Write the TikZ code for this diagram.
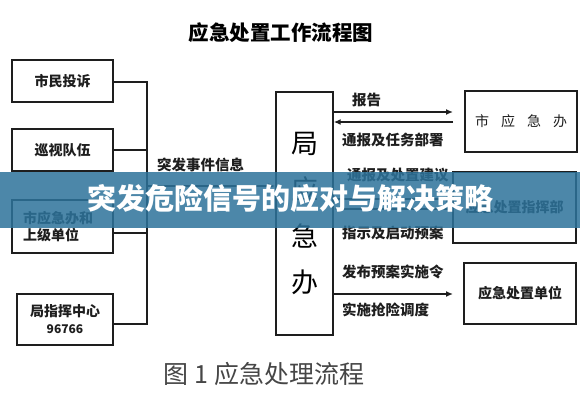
\documentclass[tikz,border=0pt]{standalone}
\usepackage{fontspec}
\setmainfont{Liberation Serif}
\newfontfamily\cjk{Noto Sans CJK SC}
\usetikzlibrary{arrows.meta,calc}
\definecolor{linecol}{RGB}{30,30,30}
\definecolor{bannercol}{RGB}{45,115,155}
\definecolor{capcol}{RGB}{70,70,70}
\begin{document}
\begin{tikzpicture}[x=1pt,y=-1pt,
  box/.style={draw=linecol, line width=1.4pt, inner sep=0pt, align=center},
  smalltxt/.style={font=\cjk\bfseries\fontsize{14}{17}\selectfont, text=linecol},
  lbl/.style={font=\cjk\bfseries\fontsize{14.5}{17}\selectfont, text=linecol, anchor=west, inner sep=0pt},
  conn/.style={draw=linecol, line width=1.4pt},
  arr/.style={conn, -{Latex[length=7pt,width=6pt]}}]
\useasboundingbox (0,0) rectangle (580,400);
\fill[white] (0,0) rectangle (580,400);
% title
\node[font=\cjk\bfseries\fontsize{20.5}{22}\selectfont] (title) at (281,33) {应急处置工作流程图};
% left boxes
\node[box, smalltxt, minimum width=101pt, minimum height=42pt] (b1) at (62.5,81) {市民投诉};
\node[box, smalltxt, minimum width=101pt, minimum height=42pt] (b2) at (62.5,150) {巡视队伍};
\node[box, smalltxt, minimum width=101pt, minimum height=53pt, align=left, text width=79pt] (b3) at (62.5,226.5) {市应急办和\\上级单位};
\node[box, smalltxt, minimum width=96pt, minimum height=51pt] (b4) at (65,319.5) {局指挥中心\\{\fontsize{12}{14}\selectfont 96766}};
% bus
\coordinate (busTop) at (147,82);
\coordinate (busBot) at (147,324);
\coordinate (busMid) at (147,186);
\draw[conn] (b1.east |- busTop) -- (busTop) -- (busBot) -- (b4.east |- busBot);
\draw[conn] (b2.east) -- (b2.east -| busTop);
\draw[conn] ([yshift=-6.5pt]b3.east) -- ([yshift=-6.5pt]b3.east -| busTop);
% central box
\node[box, minimum width=57pt, minimum height=243pt, font=\cjk\fontsize{27}{46.5}\selectfont] (ju) at (304.5,213.5) {局\\应\\急\\办};
\draw[arr] (busMid) -- (busMid -| ju.west);
\node[lbl] (lin) at (157,165) {突发事件信息};
% right boxes
\node[box, smalltxt, minimum width=112pt, minimum height=61pt, font=\cjk\fontsize{14}{17}\selectfont] (r1) at (521,121.5) {市\hspace{12pt}应\hspace{12pt}急\hspace{12pt}办};
\node[box, smalltxt, minimum width=123pt, minimum height=71pt] (r2) at (514.5,207.5) {应急处置指挥部};
\node[box, smalltxt, minimum width=112pt, minimum height=61pt] (r3) at (520,293.5) {应急处置单位};
% arrows pair 1
\coordinate (t1) at (453,112);
\coordinate (t2) at (453,122);
\draw[arr] (ju.east |- t1) -- (t1);
\draw[arr] (t2) -- (ju.east |- t2);
\node[lbl] (l1) at (352,100) {报告};
\node[lbl] (l2) at (342,140) {通报及任务部署};
% arrows pair 2
\coordinate (t3) at (453,199);
\coordinate (t4) at (453,209);
\draw[arr] (ju.east |- t3) -- (t3);
\draw[arr] (t4) -- (ju.east |- t4);
\node[lbl] (l3) at (347,175) {通报及处置建议};
\node[lbl] (l4) at (342,233) {指示及启动预案};
% arrow 3
\coordinate (t5) at (453,294);
\draw[arr] (ju.east |- t5) -- (t5);
\node[lbl] (l5) at (342,272) {发布预案实施令};
\node[lbl] (l6) at (342,310) {实施抢险调度};
% caption
\node[font=\cjk\fontsize{25}{28}\selectfont, text=capcol] (cap) at (264,374) {图 1 应急处理流程};
% banner
\fill[bannercol, fill opacity=0.85] (0,172) rectangle (580,228);
\node[font=\cjk\bfseries\fontsize{29}{32}\selectfont, text=white] (ban) at (290,198) {突发危险信号的应对与解决策略};
\end{tikzpicture}
\end{document}
